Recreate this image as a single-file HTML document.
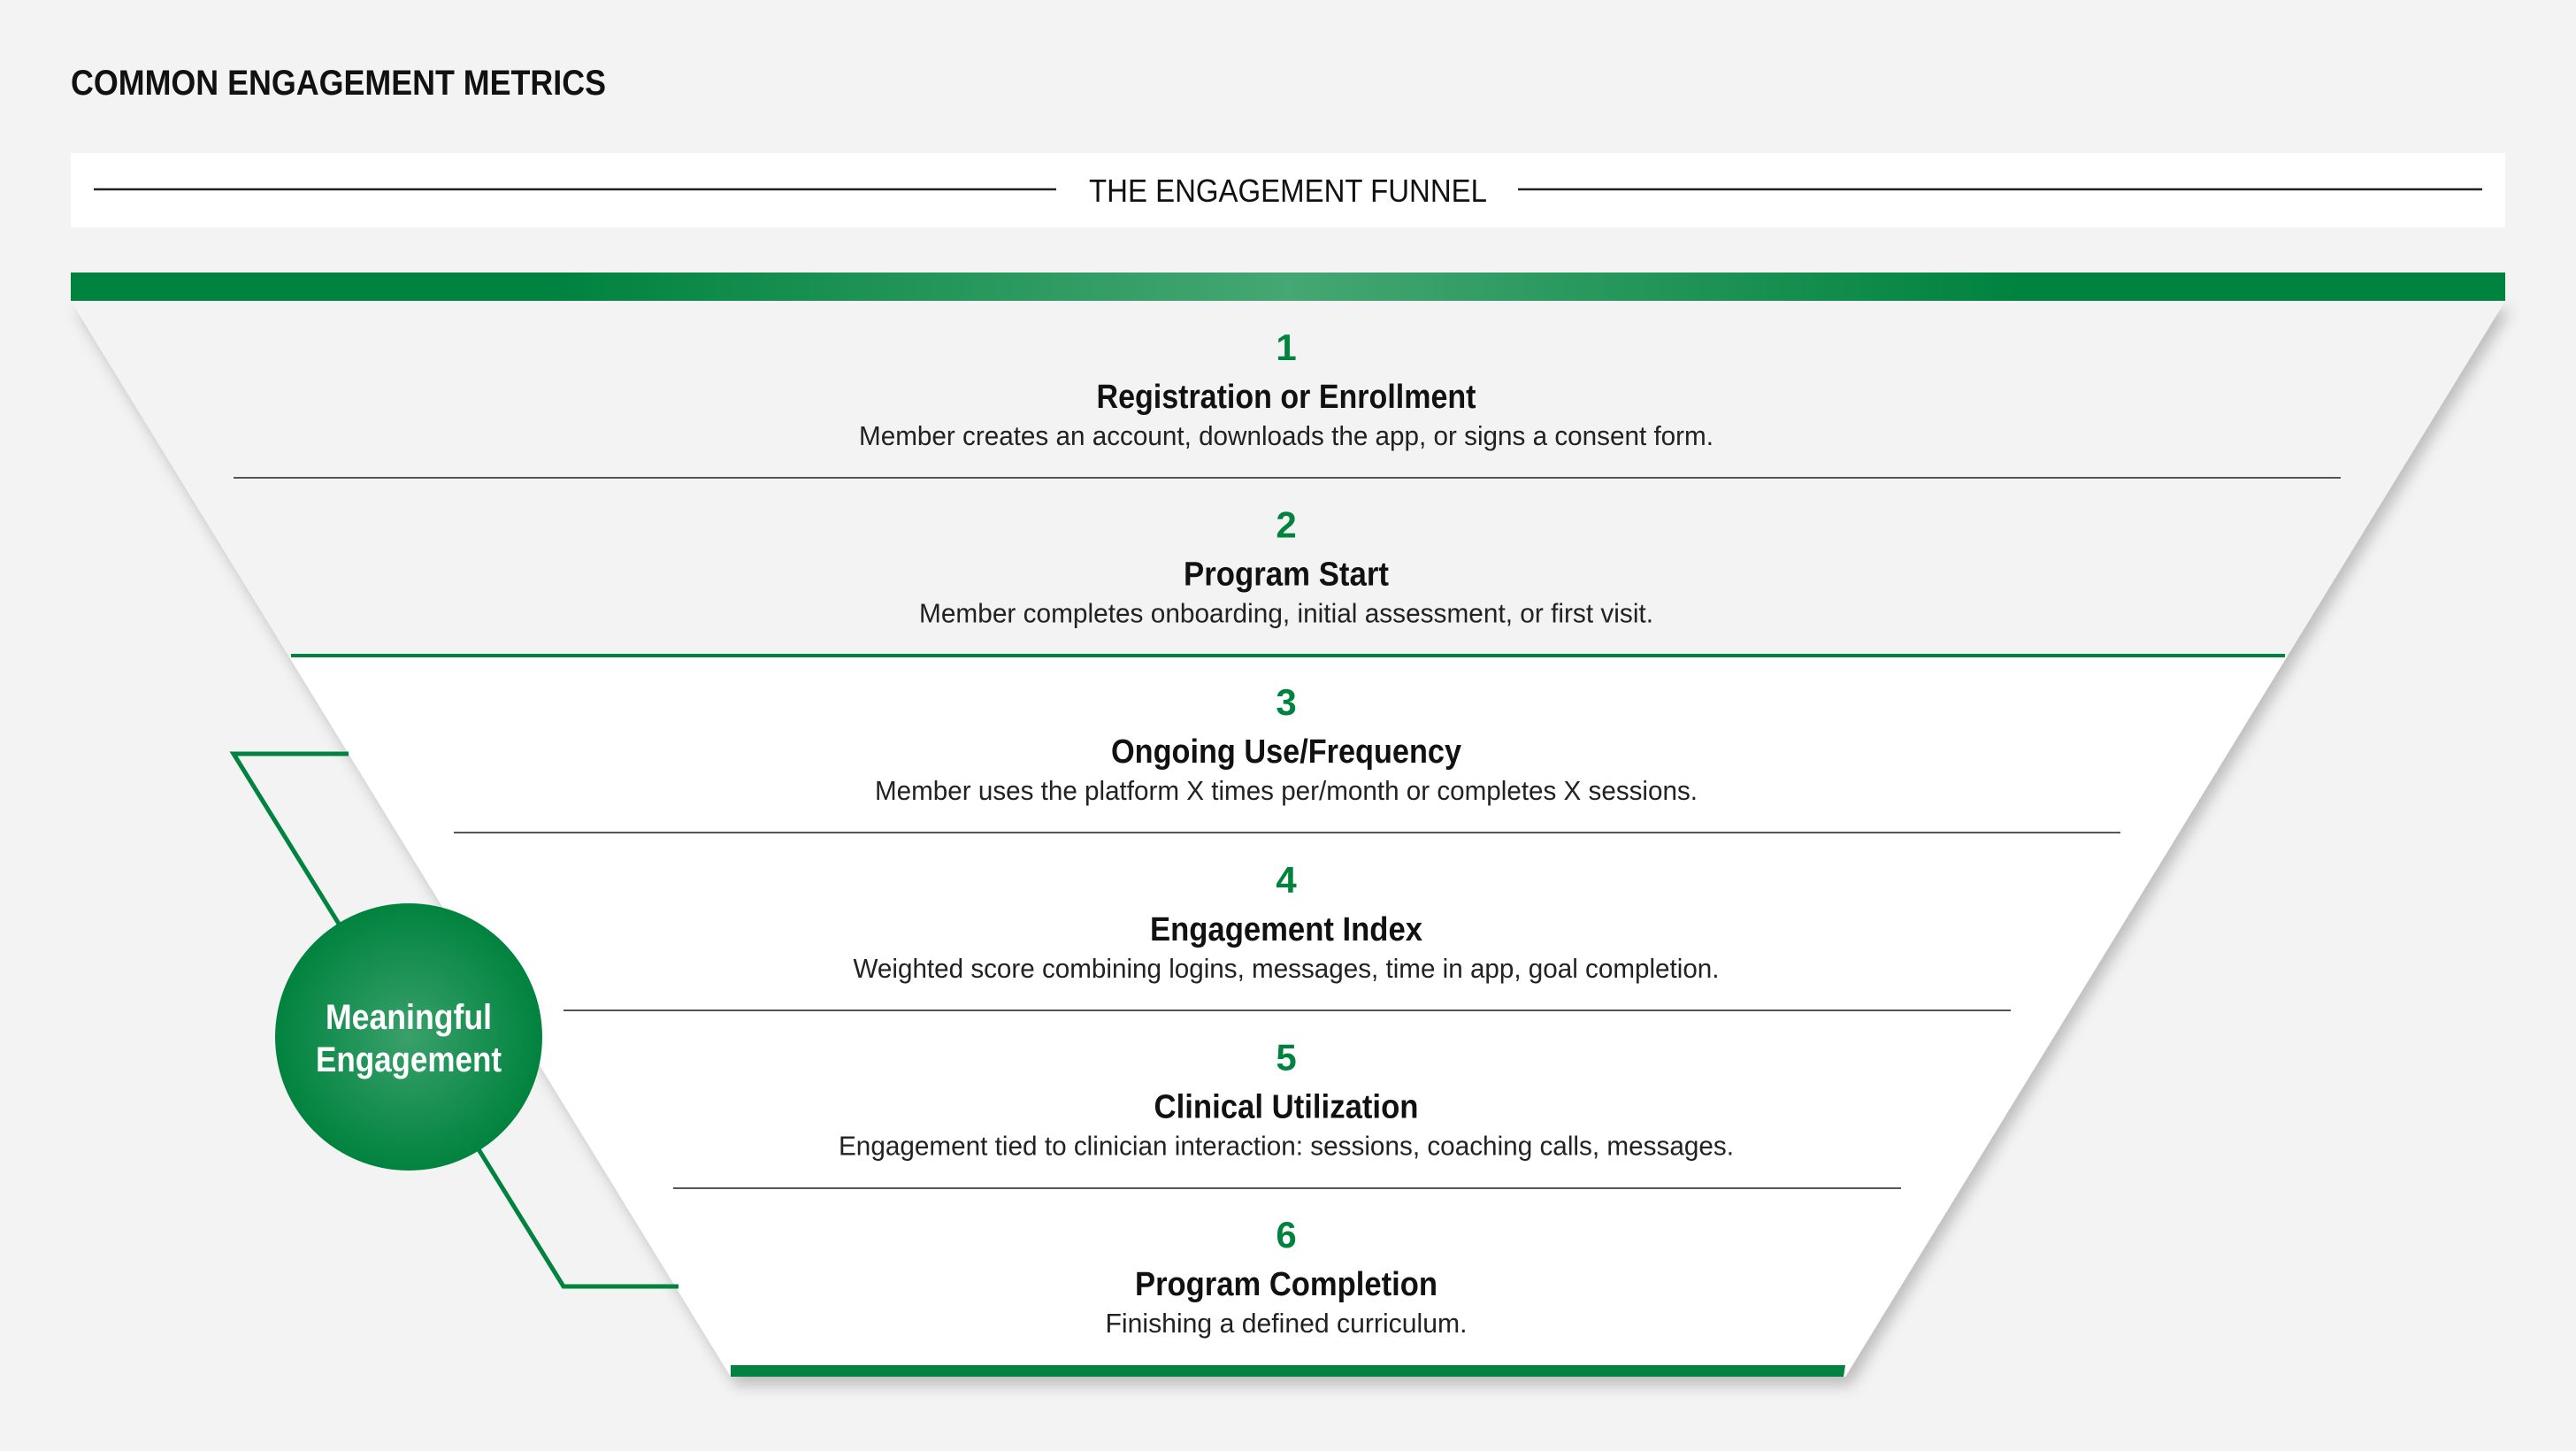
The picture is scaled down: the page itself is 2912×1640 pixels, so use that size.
<!DOCTYPE html>
<html><head><meta charset="utf-8"><style>
html,body{margin:0;padding:0;background:#f3f3f3;}
svg{display:block;}
text{font-family:"Liberation Sans",sans-serif;}
</style></head><body>
<svg width="2912" height="1640" viewBox="0 0 2912 1640" xmlns="http://www.w3.org/2000/svg">
<defs>
<linearGradient id="bar" x1="0" x2="1" y1="0" y2="0">
<stop offset="0" stop-color="#00833e"/><stop offset="0.2" stop-color="#00833e"/>
<stop offset="0.5" stop-color="#45a773"/><stop offset="0.8" stop-color="#00833e"/><stop offset="1" stop-color="#00833e"/>
</linearGradient>
<radialGradient id="circ" cx="0.5" cy="0.5" r="0.5">
<stop offset="0" stop-color="#3aa06b"/><stop offset="1" stop-color="#00833e"/>
</radialGradient>
<filter id="sh" x="-5%" y="-5%" width="110%" height="115%">
<feDropShadow dx="6" dy="10" stdDeviation="8" flood-color="#000" flood-opacity="0.22"/>
</filter>
</defs>
<rect width="2912" height="1640" fill="#f3f3f3"/>
<text x="80" y="107" font-size="40" font-weight="bold" fill="#111" textLength="605" lengthAdjust="spacingAndGlyphs">COMMON ENGAGEMENT METRICS</text>
<rect x="80" y="173" width="2752" height="84" fill="#fff"/>
<line x1="106" y1="214" x2="1194" y2="214" stroke="#222" stroke-width="2.5"/>
<line x1="1716" y1="214" x2="2806" y2="214" stroke="#222" stroke-width="2.5"/>
<text x="1231" y="228" font-size="36" fill="#111" textLength="450" lengthAdjust="spacingAndGlyphs">THE ENGAGEMENT FUNNEL</text>
<polygon points="80,340 2832,340 2086,1556 826,1556" fill="#f3f3f3" filter="url(#sh)"/>
<polygon points="326,741 2586,741 2086,1556 826,1556" fill="#fff"/>
<rect x="80" y="308" width="2752" height="32" fill="url(#bar)"/>
<polygon points="826,1543 2086,1543 2084,1556 830,1556" fill="#00833e"/>
<rect x="826" y="1543" width="1258" height="13" fill="#00833e"/>
<g stroke="#555" stroke-width="2">
<line x1="264" y1="540" x2="2646" y2="540"/>
<line x1="513" y1="941" x2="2397" y2="941"/>
<line x1="637" y1="1142" x2="2273" y2="1142"/>
<line x1="761" y1="1343" x2="2149" y2="1343"/>
</g>
<line x1="329" y1="741" x2="2583" y2="741" stroke="#00833e" stroke-width="4"/>
<g text-anchor="middle">
<g transform="translate(0,0)">
<text x="1454" y="407" font-size="42" font-weight="bold" fill="#00833e">1</text>
<text x="1454" y="461" font-size="38" font-weight="bold" fill="#111" textLength="429" lengthAdjust="spacingAndGlyphs">Registration or Enrollment</text>
<text x="1454" y="503" font-size="31" fill="#222" textLength="966" lengthAdjust="spacingAndGlyphs">Member creates an account, downloads the app, or signs a consent form.</text>
</g>
<g transform="translate(0,200.6)">
<text x="1454" y="407" font-size="42" font-weight="bold" fill="#00833e">2</text>
<text x="1454" y="461" font-size="38" font-weight="bold" fill="#111" textLength="232" lengthAdjust="spacingAndGlyphs">Program Start</text>
<text x="1454" y="503" font-size="31" fill="#222" textLength="830" lengthAdjust="spacingAndGlyphs">Member completes onboarding, initial assessment, or first visit.</text>
</g>
<g transform="translate(0,401.2)">
<text x="1454" y="407" font-size="42" font-weight="bold" fill="#00833e">3</text>
<text x="1454" y="461" font-size="38" font-weight="bold" fill="#111" textLength="396" lengthAdjust="spacingAndGlyphs">Ongoing Use/Frequency</text>
<text x="1454" y="503" font-size="31" fill="#222" textLength="930" lengthAdjust="spacingAndGlyphs">Member uses the platform X times per/month or completes X sessions.</text>
</g>
<g transform="translate(0,601.8)">
<text x="1454" y="407" font-size="42" font-weight="bold" fill="#00833e">4</text>
<text x="1454" y="461" font-size="38" font-weight="bold" fill="#111" textLength="308" lengthAdjust="spacingAndGlyphs">Engagement Index</text>
<text x="1454" y="503" font-size="31" fill="#222" textLength="979" lengthAdjust="spacingAndGlyphs">Weighted score combining logins, messages, time in app, goal completion.</text>
</g>
<g transform="translate(0,802.4)">
<text x="1454" y="407" font-size="42" font-weight="bold" fill="#00833e">5</text>
<text x="1454" y="461" font-size="38" font-weight="bold" fill="#111" textLength="299" lengthAdjust="spacingAndGlyphs">Clinical Utilization</text>
<text x="1454" y="503" font-size="31" fill="#222" textLength="1012" lengthAdjust="spacingAndGlyphs">Engagement tied to clinician interaction: sessions, coaching calls, messages.</text>
</g>
<g transform="translate(0,1003)">
<text x="1454" y="407" font-size="42" font-weight="bold" fill="#00833e">6</text>
<text x="1454" y="461" font-size="38" font-weight="bold" fill="#111" textLength="342" lengthAdjust="spacingAndGlyphs">Program Completion</text>
<text x="1454" y="503" font-size="31" fill="#222" textLength="409" lengthAdjust="spacingAndGlyphs">Finishing a defined curriculum.</text>
</g>
</g>
<polyline points="394,852 264,852 637,1454 767,1454" fill="none" stroke="#00833e" stroke-width="5"/>
<circle cx="462" cy="1172" r="151" fill="url(#circ)"/>
<g text-anchor="middle" fill="#fff" font-weight="bold" font-size="40">
<text x="462" y="1163" textLength="188" lengthAdjust="spacingAndGlyphs">Meaningful</text>
<text x="462" y="1211" textLength="210" lengthAdjust="spacingAndGlyphs">Engagement</text>
</g>
</svg>
</body></html>
